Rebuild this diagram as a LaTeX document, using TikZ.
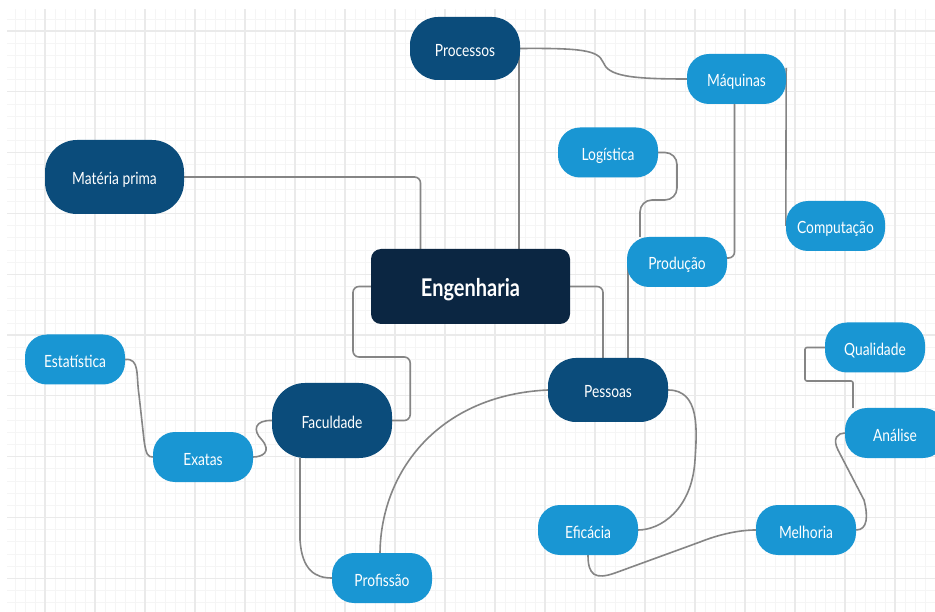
\documentclass[tikz,border=0pt]{standalone}
\usepackage{fontspec}
\setmainfont{Lato}
\usepackage{graphicx}
\definecolor{navyb}{HTML}{0B2642}
\definecolor{darkb}{HTML}{0B4C7B}
\definecolor{lightb}{HTML}{1996D3}
\definecolor{linkg}{HTML}{858585}
\definecolor{minorg}{HTML}{F5F5F5}
\definecolor{majorg}{HTML}{EAEAEA}
\newcommand\vst[1]{\scalebox{1}[1.22]{#1}}
\pgfdeclarelayer{gridlayer}
\pgfdeclarelayer{linklayer}
\pgfsetlayers{gridlayer,linklayer,main}
\begin{document}
\begin{tikzpicture}[x=1pt,y=-1pt,
  basebox/.style={inner sep=0pt, text=white, text height=16pt, text depth=0pt, font=\fontsize{13.8}{16}\selectfont},
  lightbox/.style={basebox, fill=lightb, rounded corners=22pt, minimum width=100pt, minimum height=50pt},
  darkbox/.style={basebox, fill=darkb, rounded corners=#1},
  engbox/.style={inner sep=0pt, text=white, fill=navyb, rounded corners=10pt, minimum width=199pt, minimum height=75pt, text height=21pt, text depth=0pt, font=\fontsize{20}{24}\selectfont\bfseries},
  link/.style={draw=linkg, line width=1.6pt},
  minorline/.style={draw=minorg, line width=0.6pt},
  majorline/.style={draw=majorg, line width=1.1pt}]
\useasboundingbox (0,0) rectangle (935,612);

% grid
\begin{pgfonlayer}{gridlayer}
\fill[white] (0,0) rectangle (935,612);
\begin{scope}
\clip (7,10) rectangle (935,612);
\foreach \i in {0,...,94} \draw[minorline] ({-5+10*\i},0) -- ++(0,612);
\foreach \i in {0,...,55} \draw[minorline] (0,{-29.8+12.16*\i}) -- ++(935,0);
\foreach \i in {0,...,19} \draw[majorline] ({-5+50*\i},0) -- ++(0,612);
\foreach \i in {0,...,11} \draw[majorline] (0,{-29.8+60.8*\i}) -- ++(935,0);
\end{scope}
\end{pgfonlayer}

% nodes
\node[engbox] (eng) at (470.5,286.5) {\vst{Engenharia}};
\node[darkbox=28pt, minimum width=110pt, minimum height=63pt] (proc) at (465,48.5) {\vst{Processos}};
\node[darkbox=32pt, minimum width=139pt, minimum height=74pt] (mat) at (114.5,177) {\vst{Matéria prima}};
\node[darkbox=28pt, minimum width=120pt, minimum height=64pt] (pes) at (608,390) {\vst{Pessoas}};
\node[darkbox=33pt, minimum width=120pt, minimum height=75pt] (fac) at (332,420.5) {\vst{Faculdade}};
\node[lightbox, minimum width=99pt] (maq) at (736.5,79) {\vst{Máquinas}};
\node[lightbox] (log) at (608,152.5) {\vst{Logística}};
\node[lightbox, minimum width=99pt] (comp) at (835.5,226) {\vst{Computação}};
\node[lightbox] (prod) at (677,262) {\vst{Produção}};
\node[lightbox] (est) at (75,359.5) {\vst{Estatística}};
\node[lightbox] (qual) at (875,347.5) {\vst{Qualidade}};
\node[lightbox] (ana) at (895,433) {\vst{Análise}};
\node[lightbox] (exa) at (203,457) {\vst{Exatas}};
\node[lightbox] (efi) at (588,530) {\vst{Eficácia}};
\node[lightbox] (mel) at (806,530) {\vst{Melhoria}};
\node[lightbox] (prof) at (382,578) {\vst{Profissão}};

% connectors
\begin{pgfonlayer}{linklayer}
\draw[link] (proc.east) .. controls (580,48) and (598,50) .. (603,62) .. controls (608,76) and (630,79) .. (maq.west);
\draw[link] ([xshift=-1pt]proc.east) -- ([xshift=-1pt]proc.east |- eng.north);
\draw[link, rounded corners=6pt] (mat.east) -| ([xshift=-50pt]eng.north);
\draw[link, rounded corners=6pt] ([xshift=-2pt]maq.south) |- ([yshift=4pt]prod.east);
\draw[link] ([yshift=11pt]maq.east) -- (comp.west);
\draw[link, rounded corners=12pt] (log.east) -- (log.east -| prod.north) -- (677,200) -- (640,200) -- ([xshift=-37pt]prod.north);
\draw[link] ([xshift=1pt]prod.west) -- ([xshift=1pt]prod.west |- pes.north);
\draw[link, rounded corners=6pt] (eng.east) -| ([xshift=-5pt]pes.north);
\draw[link, rounded corners=6pt] (eng.west) -| (353,357) -| ([xshift=18pt]fac.east) -- (fac.east);
\draw[link] (fac.west) .. controls (255,420) and (252,430) .. (262,440) .. controls (272,452) and (262,457) .. (exa.east);
\draw[link] (est.east) .. controls (140,358) and (136,375) .. (139,395) -- (144,440) .. controls (146,455) and (148,457) .. (exa.west);
\draw[link] ([xshift=-32pt]fac.south) -- (300,540) .. controls (302,570) and (315,578) .. (prof.west);
\draw[link] ([xshift=-2pt]prof.north) .. controls (381,470) and (440,395) .. (pes.west);
\draw[link] (pes.east) .. controls (700,390) and (697,430) .. (695,460) .. controls (692,510) and (660,530) .. (efi.east);
\draw[link] (efi.south) .. controls (588,575) and (595,580) .. (615,573) -- (700,542) .. controls (720,534) and (740,530) .. (mel.west);
\draw[link] (mel.east) .. controls (868,530) and (868,515) .. (864,500) -- (838,450) .. controls (832,438) and (838,433) .. (ana.west);
\draw[link, rounded corners=2pt] ([xshift=-42pt]ana.north) |- (805,381) |- (qual.west);
\end{pgfonlayer}
\end{tikzpicture}
\end{document}
